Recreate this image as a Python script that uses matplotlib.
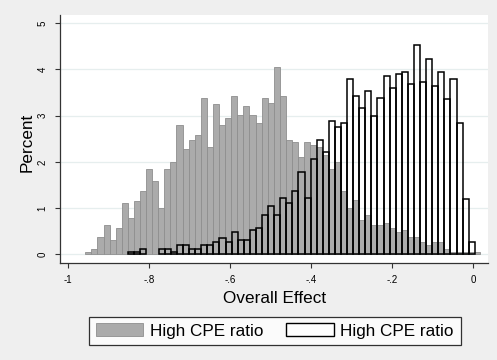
import matplotlib
matplotlib.use("Agg")
import matplotlib.pyplot as plt
import numpy as np

plt.rcParams['font.family'] = ['Liberation Sans', 'DejaVu Sans']

# Histogram of the overall effect, percent of observations per bin
bin_width = 0.01501

gray_start = -0.958
gray_pct = [0.05, 0.11, 0.37, 0.63, 0.31, 0.58, 1.12, 0.79, 1.16, 1.36,
            1.85, 1.58, 1.00, 1.85, 2.00, 2.79, 2.27, 2.47, 2.58, 3.38,
            2.32, 3.26, 2.79, 2.95, 3.43, 3.01, 3.21, 3.01, 2.85, 3.38,
            3.27, 4.06, 3.43, 2.47, 2.44, 2.11, 2.42, 2.37, 2.32, 2.15,
            1.85, 2.00, 1.37, 1.00, 1.17, 0.74, 0.84, 0.63, 0.63, 0.68,
            0.58, 0.48, 0.53, 0.37, 0.37, 0.26, 0.21, 0.26, 0.26, 0.11,
            0.06, 0.06, 0.06, 0.06, 0.06]

outline_start = -0.852
outline_pct = [0.05, 0.05, 0.11, 0.00, 0.00, 0.11, 0.11, 0.05, 0.21, 0.21,
               0.11, 0.11, 0.21, 0.21, 0.26, 0.36, 0.26, 0.48, 0.32, 0.32,
               0.53, 0.58, 0.84, 1.05, 0.84, 1.21, 1.10, 1.36, 1.78, 1.21,
               2.06, 2.47, 2.21, 2.89, 2.75, 2.84, 3.79, 3.43, 3.16, 3.54,
               3.00, 3.38, 3.85, 3.59, 3.90, 3.95, 3.69, 4.53, 3.74, 4.22,
               3.64, 3.95, 3.37, 3.79, 2.84, 1.20, 0.26]

legend_labels = ["High CPE ratio", "High CPE ratio"]
x_ticks = [-1, -0.8, -0.6, -0.4, -0.2, 0]
x_ticklabels = ["-1", "-.8", "-.6", "-.4", "-.2", "0"]
y_ticks = [0, 1, 2, 3, 4, 5]

W, H = 497, 360
fig = plt.figure(figsize=(W / 100, H / 100), dpi=100)
fig.patch.set_facecolor('#EFEFEF')

left, right, top, bottom = 60, 488.3, 15, 263.3
ax = fig.add_axes([left / W, 1 - bottom / H, (right - left) / W, (bottom - top) / H])
ax.set_facecolor('white')

gray_pct = np.array(gray_pct)
outline_pct = np.array(outline_pct)
gray_edges = gray_start + bin_width * np.arange(len(gray_pct))
outline_edges = outline_start + bin_width * np.arange(len(outline_pct))

ax.set_axisbelow(True)
for yv in y_ticks:
    ax.axhline(yv, color='#E6EEEE', lw=0.9, zorder=0)

ax.bar(gray_edges, gray_pct, width=bin_width, align='edge',
       color='#ABABAB', edgecolor='#8E8E8E', linewidth=0.6, zorder=2,
       label=legend_labels[0])
nz = outline_pct > 0
ax.bar(outline_edges[nz], outline_pct[nz], width=bin_width, align='edge',
       facecolor='none', edgecolor='black', linewidth=1.1, zorder=3,
       label=legend_labels[1])

x0 = -1 - 8.3 / 405
x1 = -1 + (right - 68.3) / 405
ax.set_xlim(x0, x1)
ax.set_ylim(-9 / 46.2, (254.3 - top) / 46.2)

ax.spines['top'].set_visible(False)
ax.spines['right'].set_visible(False)
for s in ('left', 'bottom'):
    ax.spines[s].set_color('#333333')
    ax.spines[s].set_linewidth(0.9)

ax.set_xticks(x_ticks)
ax.set_xticklabels(x_ticklabels)
ax.set_yticks(y_ticks)
ax.set_yticklabels([str(v) for v in y_ticks], rotation=90, va='center')
ax.tick_params(axis='both', length=3.6, width=0.8, color='#333333',
               labelsize=7.0, labelcolor='black')
ax.tick_params(axis='x', pad=5)
ax.tick_params(axis='y', pad=5.5)

ax.set_xlabel("Overall Effect", fontsize=12.3, labelpad=4)
ax.set_ylabel("Percent", fontsize=12.3)
ax.yaxis.set_label_coords((35 - left) / (right - left), 0.486)

leg_handles = [plt.Rectangle((0, 0), 1, 1, facecolor='#ABABAB', edgecolor='#8E8E8E', lw=0.6),
               plt.Rectangle((0, 0), 1, 1, facecolor='white', edgecolor='black', lw=1.0)]
leg = fig.legend(leg_handles, legend_labels, loc='center',
                 bbox_to_anchor=(274.7 / W, 1 - 331 / H), ncol=2,
                 fontsize=12.3, frameon=True, fancybox=False,
                 handlelength=2.8, handleheight=0.75, handletextpad=0.4,
                 columnspacing=1.3, borderpad=0.4, borderaxespad=0)
leg.get_frame().set_edgecolor('black')
leg.get_frame().set_linewidth(0.9)
leg.get_frame().set_facecolor('white')

fig.savefig('out.png', dpi=100, facecolor=fig.get_facecolor())
